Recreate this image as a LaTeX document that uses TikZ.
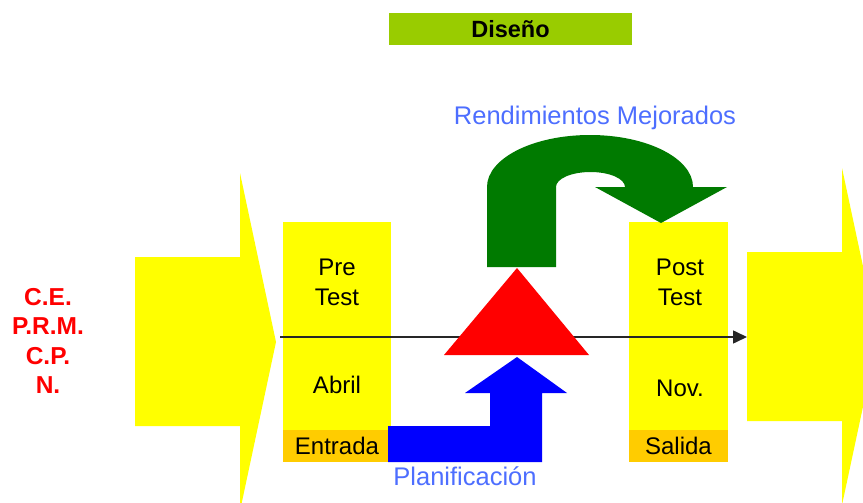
\documentclass[tikz,border=0pt]{standalone}
\usepackage{fontspec}
\setmainfont{Liberation Sans}
\usetikzlibrary{arrows.meta}
\definecolor{amarillo}{RGB}{255,255,0}
\definecolor{naranja}{RGB}{255,204,0}
\definecolor{verdeclaro}{RGB}{153,204,0}
\definecolor{verde}{RGB}{0,122,0}
\definecolor{azultexto}{RGB}{77,110,255}
\tikzset{
  caja/.style={fill=amarillo,inner sep=0pt,minimum height=208pt},
  pie/.style={fill=naranja,inner sep=0pt,minimum height=32pt,font=\fontsize{24}{28}\selectfont},
  texto/.style={font=\fontsize{24}{30}\selectfont,align=center,inner sep=0pt}
}
\begin{document}
\begin{tikzpicture}[x=1pt,y=-1pt]
\useasboundingbox (0,0) rectangle (863,503);
\node[fill=verdeclaro,minimum width=243pt,minimum height=32pt,font=\bfseries\fontsize{23.5}{28}\selectfont] (diseno) at (510.5,29) {Diseño};
% flechas amarillas
\fill[amarillo] (135,257) -- (240,257) -- (240,173) -- (276,342) -- (240,511) -- (240,426) -- (135,426) -- cycle;
\begin{scope}
\clip (0,0) rectangle (863,503);
\fill[amarillo] (747,252) -- (842,252) -- (842,168) -- (878,336.5) -- (842,505) -- (842,421) -- (747,421) -- cycle;
\end{scope}
\node[texto,text=red,font=\bfseries\fontsize{24.5}{29.5}\selectfont] (grupos) at (48,341) {C.E.\\P.R.M.\\C.P.\\N.};
% entrada
\node[caja,minimum width=108pt] (pre) at (337,326) {};
\node[pie,minimum width=108pt] (entrada) at (337,446) {Entrada};
\node[texto] (pretest) at (337,282) {Pre\\Test};
\node[texto] (abril) at (337,385) {Abril};
% salida
\node[caja,minimum width=99pt] (post) at (678.5,326) {};
\node[pie,minimum width=99pt] (salida) at (678.5,446) {Salida};
\node[texto] (posttest) at (680,282) {Post\\Test};
\node[texto] (nov) at (680,388) {Nov.};
% linea de tiempo
\coordinate (inicio) at (280,337);
\coordinate (fin) at (747,337);
\draw[line width=1.6pt,black!85,-{Triangle[length=14pt,width=13pt]}] (inicio) -- (fin);
% tratamiento
\fill[red] (444,355) -- (517,268) -- (589,355) -- cycle;
\fill[blue] (388,426) -- (490,426) -- (490,393) -- (465,393) -- (517,357) -- (567,393) -- (542,393) -- (542,462) -- (388,462) -- cycle;
\fill[verde] (487,267) -- (487,187) arc[start angle=180,end angle=360,x radius=103,y radius=52]
  -- (727,187) -- (661,223) -- (595,187) -- (625,187)
  arc[start angle=0,end angle=-180,x radius=34.5,y radius=15] -- (556,267) -- cycle;
\node[texto,text=azultexto,font=\fontsize{25.5}{30}\selectfont] (rendimientos) at (595,118) {Rendimientos Mejorados};
\node[texto,text=azultexto,font=\fontsize{25.5}{30}\selectfont] (planificacion) at (465,476) {Planificación};
\end{tikzpicture}
\end{document}
